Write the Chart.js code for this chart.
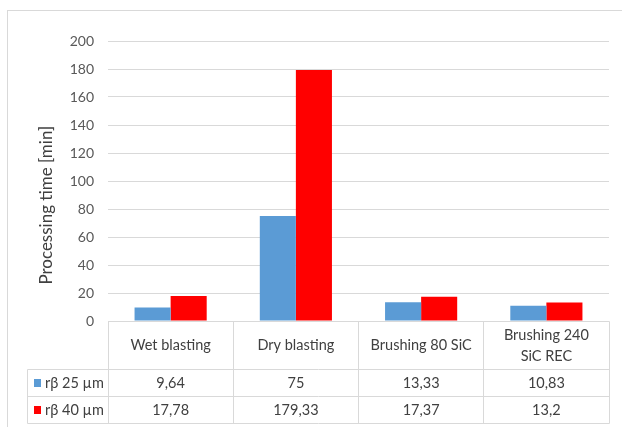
<!DOCTYPE html>
<html>
<head>
<meta charset="utf-8">
<script src="https://cdn.jsdelivr.net/npm/chart.js@4"></script>
<style>
  html, body { margin: 0; padding: 0; background: #ffffff; }
  #wrap { width: 622px; height: 427px; }
</style>
</head>
<body>
<div id="wrap"><canvas id="chart" width="622" height="427"></canvas></div>
<script>
// Processing time per surface treatment, for two target roughness levels
const categories = ['Wet blasting', 'Dry blasting', 'Brushing 80 SiC', ['Brushing 240', 'SiC REC']];
const seriesNames = ['rβ 25 µm', 'rβ 40 µm'];
const r25Values = [9.64, 75, 13.33, 10.83];
const r40Values = [17.78, 179.33, 17.37, 13.2];
const seriesColors = ['#5b9bd5', '#ff0000'];
const axisTitle = 'Processing time [min]';
const yMin = 0, yMax = 200, yStep = 20;

const FONT = 'Lato, "Noto Sans", sans-serif';
const LINE = '#d9d9d9';
const TEXT = '#404040';

// Decimal comma formatting used in the data table
function fmt(v) { return String(v).replace('.', ','); }

// Draws the outer frame, rotated axis title and the data table beneath the plot
const dataTablePlugin = {
  id: 'dataTable',
  afterDraw(chart) {
    const ctx = chart.ctx;
    const area = chart.chartArea;
    const xs = chart.scales.x;
    const n = categories.length;
    const colW = (area.right - area.left) / n;
    const px = v => Math.floor(v) + 0.5;

    const top = px(area.bottom);
    const headBottom = top + 48;
    const row1Bottom = headBottom + 27;
    const row2Bottom = row1Bottom + 27;
    const legendLeft = 27.5;

    ctx.save();
    // outer frame
    ctx.strokeStyle = LINE;
    ctx.lineWidth = 1;
    ctx.strokeRect(7.5, 10.5, 700, 500);

    // table grid
    ctx.beginPath();
    ctx.moveTo(px(area.left), top); ctx.lineTo(px(area.right), top);
    [headBottom, row1Bottom, row2Bottom].forEach(y => {
      ctx.moveTo(legendLeft, y); ctx.lineTo(px(area.right), y);
    });
    for (let i = 0; i <= n; i++) {
      const x = px(area.left + i * colW);
      ctx.moveTo(x, top); ctx.lineTo(x, row2Bottom);
    }
    ctx.moveTo(legendLeft, headBottom); ctx.lineTo(legendLeft, row2Bottom);
    ctx.stroke();

    // header labels
    ctx.fillStyle = TEXT;
    ctx.textAlign = 'center';
    ctx.textBaseline = 'middle';
    ctx.font = '14.5px ' + FONT;
    const headMid = (top + headBottom) / 2;
    categories.forEach((c, i) => {
      const cx = xs.getPixelForValue(i);
      const lines = Array.isArray(c) ? c : [c];
      const lh = 21;
      lines.forEach((t, k) => {
        ctx.fillText(t, cx, headMid + (k - (lines.length - 1) / 2) * lh);
      });
    });

    // value rows with legend keys
    const rows = [r25Values, r40Values];
    const rowMids = [(headBottom + row1Bottom) / 2, (row1Bottom + row2Bottom) / 2];
    rows.forEach((vals, r) => {
      const y = rowMids[r];
      ctx.fillStyle = seriesColors[r];
      ctx.fillRect(34, Math.round(y) - 4, 7, 8);
      ctx.fillStyle = TEXT;
      ctx.textAlign = 'left';
      ctx.fillText(seriesNames[r], 45, y);
      ctx.textAlign = 'center';
      vals.forEach((v, i) => ctx.fillText(fmt(v), xs.getPixelForValue(i), y));
    });

    // y-axis title, centred over plot and header row
    ctx.save();
    ctx.translate(47, (area.top + headBottom) / 2);
    ctx.rotate(-Math.PI / 2);
    ctx.font = '17px ' + FONT;
    ctx.fillStyle = TEXT;
    ctx.textAlign = 'center';
    ctx.textBaseline = 'middle';
    ctx.fillText(axisTitle, 0, 0);
    ctx.restore();

    ctx.restore();
  }
};

new Chart(document.getElementById('chart'), {
  type: 'bar',
  data: {
    labels: categories,
    datasets: [
      { label: seriesNames[0], data: r25Values, backgroundColor: seriesColors[0] },
      { label: seriesNames[1], data: r40Values, backgroundColor: seriesColors[1] }
    ]
  },
  options: {
    responsive: false,
    devicePixelRatio: 1,
    animation: false,
    layout: { padding: { left: 8, right: 13, top: 41, bottom: 106 } },
    datasets: { bar: { categoryPercentage: 0.576, barPercentage: 1, borderWidth: 0 } },
    plugins: { legend: { display: false }, tooltip: { enabled: false } },
    scales: {
      x: { display: false },
      y: {
        min: yMin, max: yMax,
        ticks: { stepSize: yStep, color: '#595959', padding: 14, font: { family: FONT, size: 14 } },
        grid: { color: LINE, lineWidth: 1, drawTicks: false },
        border: { display: false },
        afterFit(scale) { scale.width = 100; }
      }
    }
  },
  plugins: [dataTablePlugin]
});
</script>
</body>
</html>
